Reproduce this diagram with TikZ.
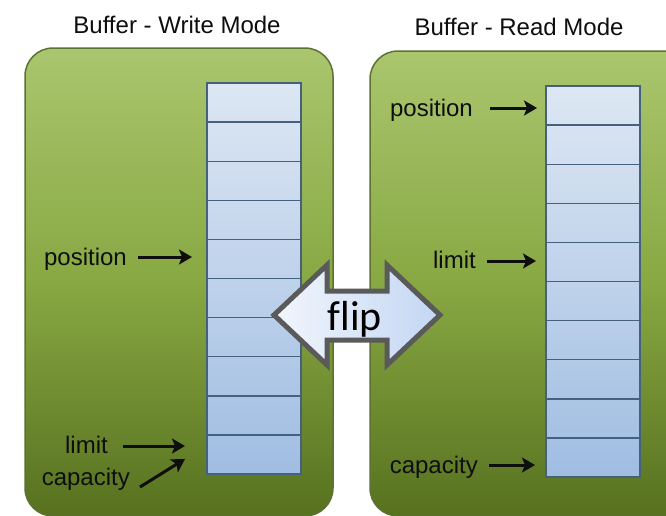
\documentclass[tikz,border=0pt]{standalone}
\usepackage{fontspec}
\setmainfont{Liberation Sans}
\newfontfamily\flipfont{Carlito}
\usetikzlibrary{arrows.meta,calc}

\definecolor{boxtop}{HTML}{AAC66E}
\definecolor{boxmid}{HTML}{88A843}
\definecolor{boxbot}{HTML}{57711F}
\definecolor{boxedge}{HTML}{5B7230}
\definecolor{celltop}{HTML}{DDE7F3}
\definecolor{cellbot}{HTML}{A0BDE2}
\definecolor{celledge}{HTML}{46617F}
\definecolor{flipedge}{HTML}{5A5A5A}
\definecolor{flipleft}{HTML}{F2F6FD}
\definecolor{flipright}{HTML}{C3D6F3}
\definecolor{ink}{HTML}{0E0E0E}

\tikzset{
  modebox/.style={draw=boxedge, line width=1.5pt, rounded corners=28pt,
    top color=boxtop, bottom color=boxbot, middle color=boxmid},
  title/.style={font=\fontsize{24}{28}\selectfont, text=ink, anchor=base, inner sep=0pt},
  pointer/.style={font=\fontsize{24}{28}\selectfont, text=ink, anchor=base east, inner sep=0pt},
  pointerarrow/.style={draw=ink, line width=3pt,
    -{Stealth[length=13pt,width=15pt,inset=3pt]}},
  cell/.style={draw=celledge, line width=1.4pt, minimum width=94pt, minimum height=39.1pt,
    inner sep=0pt, outer sep=0pt},
  flipshape/.style={draw=flipedge, line width=5pt, line join=miter,
    left color=flipleft, right color=flipright},
}

\begin{document}
\begin{tikzpicture}[x=1pt, y=-1pt]
  \useasboundingbox (0,0) rectangle (666,515);
  \clip (0,0) rectangle (666,515);
  \fill[white] (0,0) rectangle (666,515);

  % the two buffer panels
  \draw[modebox] (25,48) rectangle (333,516);
  \draw[modebox] (370,51) rectangle (700,516);

  \node[title] (wtitle) at (177,33) {Buffer - Write Mode};
  \node[title] (rtitle) at (519,35) {Buffer - Read Mode};

  % buffer cells, shaded light to dark down the column
  \foreach \i in {1,...,10} {
    \pgfmathtruncatemacro\ta{100-10*(\i-1)}
    \pgfmathtruncatemacro\tb{100-10*\i}
    \node[cell, top color=celltop!\ta!cellbot, bottom color=celltop!\tb!cellbot]
      (w\i) at (254,{83+39.1*(\i-0.5)}) {};
    \node[cell, top color=celltop!\ta!cellbot, bottom color=celltop!\tb!cellbot]
      (r\i) at (593,{86+39.1*(\i-0.5)}) {};
  }

  % arrow rows
  \coordinate (wposrow) at (0,257);
  \coordinate (wlimrow) at (0,446);
  \coordinate (rposrow) at (0,108);
  \coordinate (rlimrow) at (0,261);
  \coordinate (rcaprow) at (0,465);

  % write mode pointers
  \node[pointer] (wpos) at (127,265) {position};
  \node[pointer] (wlim) at (108,453) {limit};
  \node[pointer] (wcap) at (130,485) {capacity};
  \draw[pointerarrow] (138,0 |- wposrow) -- ([xshift=-15pt]w5.west |- wposrow);
  \draw[pointerarrow] (123,0 |- wlimrow) -- ([xshift=-22pt]w10.west |- wlimrow);
  \draw[pointerarrow] ([xshift=10pt,yshift=-2pt]wcap.base east) -- ([xshift=-22pt,yshift=-4.5pt]w10.west);

  % read mode pointers
  \node[pointer] (rpos) at (473,116) {position};
  \node[pointer] (rlim) at (476,268) {limit};
  \node[pointer] (rcap) at (478,473) {capacity};
  \draw[pointerarrow] ([xshift=17pt]rpos.east |- rposrow) -- ([xshift=-9pt]r1.west |- rposrow);
  \draw[pointerarrow] ([xshift=11pt]rlim.east |- rlimrow) -- ([xshift=-10pt]r5.west |- rlimrow);
  \draw[pointerarrow] ([xshift=11pt]rcap.east |- rcaprow) -- ([xshift=-11pt]r10.west |- rcaprow);

  % flip double arrow
  \coordinate (flipc) at (357,315);
  \begin{scope}[shift={(flipc)}]
    \draw[flipshape] (-83,0) -- (-30,-50) -- (-30,-24) -- (30,-24) -- (30,-50) -- (83,0)
      -- (30,50) -- (30,25) -- (-30,25) -- (-30,50) -- cycle;
  \end{scope}
  \node[font=\flipfont\fontsize{42}{48}\selectfont, anchor=base, inner sep=0pt] (flip)
    at (355,330) {f\kern0pt lip};
\end{tikzpicture}
\end{document}
